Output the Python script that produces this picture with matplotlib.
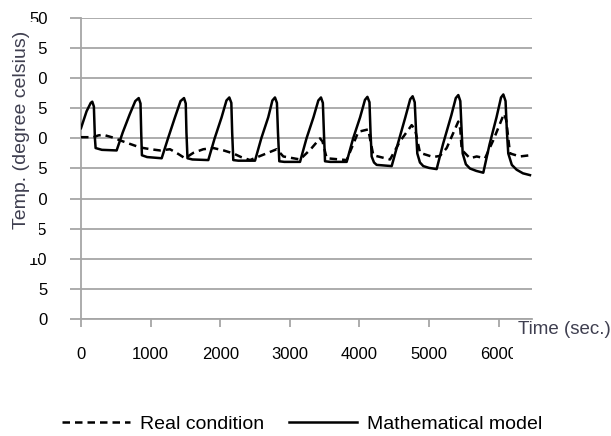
import matplotlib
matplotlib.use('Agg')
import matplotlib.pyplot as plt
from matplotlib.patches import Rectangle

plt.rcParams['font.family'] = ['Liberation Sans', 'DejaVu Sans']

# Mathematical model (solid)
model_t = [0, 80, 140, 162, 185, 200, 210, 300, 512,
           600, 700, 780, 829, 855, 865, 875, 950, 1159,
           1250, 1350, 1430, 1480, 1505, 1515, 1530, 1600, 1829,
           1920, 2020, 2090, 2131, 2160, 2172, 2188, 2260, 2500,
           2590, 2690, 2750, 2787, 2815, 2830, 2849, 2920, 3147,
           3240, 3340, 3410, 3448, 3475, 3490, 3506, 3580, 3817,
           3910, 4010, 4080, 4115, 4145, 4160, 4176, 4210, 4248, 4464,
           4550, 4660, 4730, 4765, 4795, 4815, 4832, 4870, 4918, 5000, 5110,
           5200, 5320, 5385, 5421, 5450, 5470, 5484, 5530, 5589, 5680, 5780,
           5870, 5970, 6035, 6068, 6100, 6120, 6139, 6190, 6259, 6350, 6451]
model_temp = [31.7, 34.5, 35.9, 36.1, 35.3, 30.0, 28.4, 28.1, 28.0,
              31.0, 34.0, 36.2, 36.7, 35.8, 31.0, 27.2, 26.9, 26.7,
              30.0, 33.5, 36.2, 36.7, 35.8, 31.0, 26.7, 26.5, 26.4,
              30.0, 33.5, 36.3, 36.8, 35.9, 31.0, 26.4, 26.3, 26.3,
              30.0, 33.5, 36.3, 36.8, 35.9, 31.0, 26.2, 26.1, 26.1,
              30.0, 33.5, 36.3, 36.8, 35.9, 31.0, 26.2, 26.1, 26.1,
              30.0, 33.5, 36.4, 36.9, 36.0, 31.0, 27.0, 26.0, 25.6, 25.4,
              29.0, 33.5, 36.5, 37.0, 36.0, 31.0, 27.5, 26.0, 25.4, 25.1, 24.9,
              29.0, 33.8, 36.7, 37.2, 36.2, 31.0, 27.5, 25.7, 25.0, 24.6, 24.3,
              29.0, 33.5, 36.8, 37.3, 36.2, 31.0, 27.5, 25.6, 24.8, 24.2, 23.9]

# Real condition (dashed)
real_t = [0, 177, 250, 320, 441, 650, 848, 1000, 1135, 1279, 1400, 1494,
          1614, 1757, 1901, 2050, 2188, 2300, 2428, 2600, 2812, 2907, 3147,
          3300, 3434, 3470, 3530, 3721, 3817, 3985, 4128, 4160, 4200, 4440,
          4583, 4751, 4800, 4871, 5062, 5158, 5254, 5421, 5450, 5470, 5589,
          5685, 5805, 5924, 6078, 6110, 6164, 6307, 6451]
real_temp = [30.2, 30.2, 30.5, 30.6, 30.2, 29.3, 28.5, 28.2, 28.0, 28.2, 27.4, 26.7,
             27.6, 28.2, 28.4, 28.0, 27.5, 26.9, 26.4, 27.2, 28.2, 27.0, 26.5,
             28.2, 30.0, 29.5, 26.7, 26.5, 26.4, 31.1, 31.5, 29.5, 27.2, 26.5,
             29.5, 32.2, 31.5, 27.6, 26.9, 27.1, 28.4, 32.8, 31.5, 28.1, 26.7,
             27.0, 26.7, 29.7, 34.1, 33.0, 27.5, 27.0, 27.2]

x_ticks = [0, 1000, 2000, 3000, 4000, 5000, 6000]
y_ticks = [0, 5, 10, 15, 20, 25, 30, 35, 40, 45, 50]

W, H = 611, 436
fig = plt.figure(figsize=(W / 100, H / 100), dpi=100)
ax = fig.add_axes([81 / W, 1 - 319 / H, (532 - 81) / W, (319 - 18) / H])

grid_c = '#a6a6a6'
ax.plot(real_t, real_temp, color='black', lw=1.8, linestyle=(0, (3, 2)),
        label='Real condition', zorder=3)
ax.plot(model_t, model_temp, color='black', lw=1.8, label='Mathematical model', zorder=3)

ax.set_xlim(0, 6480)
ax.set_ylim(0, 50)
ax.set_xticks(x_ticks)
ax.set_yticks(y_ticks)
ax.yaxis.grid(True, color=grid_c, lw=1.3)
ax.set_axisbelow(True)
for s in ['top', 'right']:
    ax.spines[s].set_visible(False)
for s in ['left', 'bottom']:
    ax.spines[s].set_color(grid_c)
    ax.spines[s].set_linewidth(1.3)
ax.tick_params(axis='x', direction='out', length=6, width=1.3, color=grid_c,
               labelsize=12, pad=14)
ax.tick_params(axis='y', direction='out', length=8, width=1.3, color=grid_c,
               labelsize=12, pad=16)

# white boxes behind axis titles (they overlap the tick labels, as in the original)
fig.add_artist(Rectangle((8 / W, 1 - 258 / H), 31 / W, 236 / H,
                         transform=fig.transFigure, facecolor='white',
                         edgecolor='none', zorder=5))
fig.add_artist(Rectangle((513 / W, 1 - 366 / H), 98 / W, 44 / H,
                         transform=fig.transFigure, facecolor='white',
                         edgecolor='none', zorder=5))

lab_c = '#3f3f50'
fig.text(22 / W, 1 - 130 / H, 'Temp. (degree celsius)', rotation=90,
         ha='center', va='center', fontsize=14, color=lab_c, zorder=6)
fig.text(518 / W, 1 - 329 / H, 'Time (sec.)', ha='left', va='center',
         fontsize=13.5, color=lab_c, zorder=6)

fig.legend(loc='center', bbox_to_anchor=(302 / W, 1 - 424 / H), ncol=2,
           frameon=False, fontsize=14, handlelength=3.5, handletextpad=0.5,
           columnspacing=1.3)

fig.savefig('out.png', dpi=100)
